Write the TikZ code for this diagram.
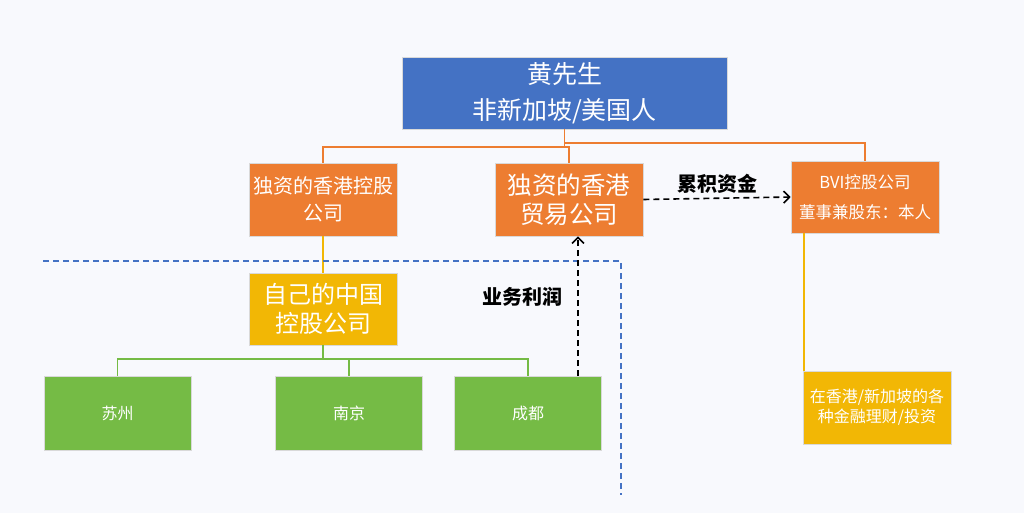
\documentclass[tikz,border=0pt]{standalone}
\usepackage{fontspec}
\setmainfont{Noto Sans CJK SC}
\newfontfamily\cjk{Noto Sans CJK SC}
\usetikzlibrary{arrows.meta,positioning}
\definecolor{cblue}{HTML}{4472C4}
\definecolor{corange}{HTML}{ED7D31}
\definecolor{cyellow}{HTML}{F2B705}
\definecolor{cgreen}{HTML}{75BB45}
\definecolor{cbg}{HTML}{F8F9FD}
\tikzset{
  box/.style={draw=white!85!black, line width=0.6pt, text=white, align=center, inner sep=0pt, font=\cjk},
  orangeline/.style={draw=corange, line width=1.4pt},
  yellowline/.style={draw=cyellow, line width=1.4pt},
  greenline/.style={draw=cgreen, line width=1.4pt},
  bluedash/.style={draw=cblue, line width=1.4pt, dash pattern=on 6pt off 4pt},
  blackdash/.style={draw=black, line width=1.6pt, dash pattern=on 6pt off 4pt, -{Straight Barb[length=6pt,width=12pt]}},
  lbl/.style={font=\cjk\bfseries\fontsize{20}{24}\selectfont, text=black}
}
\begin{document}
\begin{tikzpicture}[x=1pt,y=-1pt]
\fill[cbg] (0,0) rectangle (1024,513);
\useasboundingbox (0,0) rectangle (1024,513);
% nodes
\node[box, fill=cblue, minimum width=325pt, minimum height=72pt, font=\cjk\fontsize{25}{36}\selectfont] (boss) at (564.5,93) {黄先生\\非新加坡/美国人};
\node[box, fill=corange, minimum width=148pt, minimum height=73pt, font=\cjk\fontsize{20}{27}\selectfont] (hold) at (323,199.5) {独资的香港控股\\公司};
\node[box, fill=corange, minimum width=148pt, minimum height=73pt, font=\cjk\fontsize{24.5}{29}\selectfont] (trade) at (569,199.5) {独资的香港\\贸易公司};
\node[box, fill=corange, minimum width=148pt, minimum height=72pt, font=\cjk\fontsize{16.5}{30}\selectfont] (bvi) at (865,197) {BVI控股公司\\董事兼股东：本人};
\node[box, fill=cyellow, minimum width=148pt, minimum height=73pt, font=\cjk\fontsize{16}{20}\selectfont] (fin) at (877,407.5) {在香港/新加坡的各\\种金融理财/投资};
\node[box, fill=cyellow, minimum width=148pt, minimum height=72pt, font=\cjk\fontsize{24}{29}\selectfont] (cn) at (323,309) {自己的中国\\控股公司};
\node[box, fill=cgreen, minimum width=147pt, minimum height=74pt, font=\cjk\fontsize{16}{18}\selectfont] (sz) at (117.5,413) {苏州};
\node[box, fill=cgreen, minimum width=147pt, minimum height=74pt, font=\cjk\fontsize{16}{18}\selectfont] (nj) at (349,413) {南京};
\node[box, fill=cgreen, minimum width=147pt, minimum height=74pt, font=\cjk\fontsize{16}{18}\selectfont] (cd) at (528,413) {成都};
% labels
\node[lbl] (l1) at (717,184) {累积资金};
\node[lbl] (l2) at (522,297) {业务利润};
% coordinates
\coordinate (bl1) at (43,261);
\coordinate (bl2) at (621,261);
\coordinate (bl3) at (621,495);
\coordinate (up) at (578,376);
% orange connectors
\draw[orangeline] (boss.south) -- (564.5,147) -- (323,147) -- (hold.north);
\draw[orangeline] (564.5,147) -- (569,147) -- (trade.north);
\draw[orangeline] (564.5,143) -- (865,143) -- (bvi.north);
% yellow
\draw[yellowline] (hold.south) -- (cn.north);
\draw[yellowline] (bvi.south -| 804,0) -- (fin.north -| 804,0);
% green
\draw[greenline] (cn.south) -- (323,359) -- (117.5,359) -- (sz.north);
\draw[greenline] (323,359) -- (528,359) -- (cd.north);
\draw[greenline] (349,359) -- (nj.north);
% blue dashed boundary
\draw[bluedash] (bl1) -- (bl2) -- (bl3);
% black dashed arrows
\draw[blackdash] (trade.east) -- (bvi.west);
\draw[blackdash] (up) -- (up |- trade.south);
\end{tikzpicture}
\end{document}
